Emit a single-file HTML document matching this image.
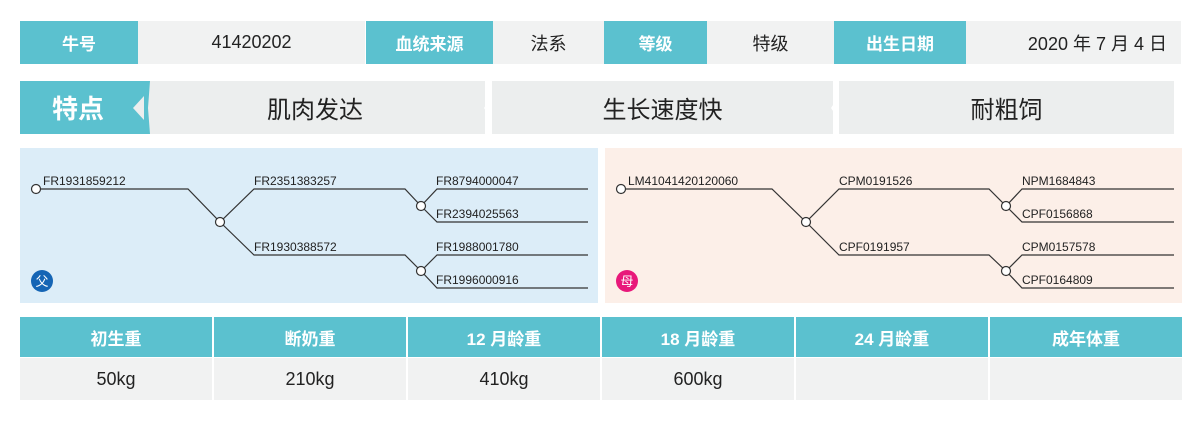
<!DOCTYPE html>
<html><head><meta charset="utf-8"><style>
body{margin:0;width:1200px;height:422px;background:#fff;position:relative;overflow:hidden;font-family:"Liberation Sans","Noto Sans CJK SC",sans-serif}
.c{position:absolute;display:flex;align-items:center;justify-content:center;box-sizing:border-box}
.t{background:#5bc1cf;color:#fff;font-weight:bold;font-size:17px}
.g{background:#f1f2f2;color:#222;font-size:18px}
.f{background:#eceeee;color:#222;font-size:24px}
</style></head><body>
<div class="c t" style="left:20px;top:21px;width:118px;height:43px">牛号</div>
<div class="c g" style="left:138px;top:21px;width:227px;height:43px">41420202</div>
<div class="c t" style="left:366px;top:21px;width:127px;height:43px">血统来源</div>
<div class="c g" style="left:493px;top:21px;width:111px;height:43px">法系</div>
<div class="c t" style="left:604px;top:21px;width:103px;height:43px">等级</div>
<div class="c g" style="left:707px;top:21px;width:127px;height:43px">特级</div>
<div class="c t" style="left:834px;top:21px;width:132px;height:43px">出生日期</div>
<div class="c g" style="left:966px;top:21px;width:215px;height:43px;justify-content:flex-end;padding-right:14px">2020 年 7 月 4 日</div>

<div class="c t" style="left:20px;top:81px;width:124px;height:53px;font-size:26px;justify-content:flex-start;padding-left:32px">特点</div>
<div class="c f" style="left:145px;top:81px;width:340px;height:53px">肌肉发达</div>
<div class="c f" style="left:492px;top:81px;width:341px;height:53px">生长速度快</div>
<div class="c f" style="left:839px;top:81px;width:335px;height:53px">耐粗饲</div>

<svg style="position:absolute;left:0;top:0" width="1200" height="422">
<polygon points="144,81 144,134 150,134 148,108 150,81" fill="#5bc1cf"/>
<polygon points="144,96 133,108 144,120" fill="#eceeee"/>
<polygon points="492,81 492,96 484,108 492,120 492,134 487,134 487,81" fill="#fff"/>
<polygon points="839,81 839,96 831,108 839,120 839,134 835,134 835,81" fill="#fff"/>
<rect x="20" y="148" width="578" height="155" fill="#dcedf8"/>
<rect x="605" y="148" width="577" height="155" fill="#fcefe8"/>
<g fill="none" stroke="#333" stroke-width="1.2">
<polyline points="36,189 188,189 220,222 254,189 405,189 421,206 437,189 588,189"/>
<polyline points="421,206 437,222 588,222"/>
<polyline points="220,222 254,255 405,255 421,271 437,255 588,255"/>
<polyline points="421,271 437,288 588,288"/>
<polyline points="621,189 772,189 806,222 839,189 989,189 1006,206 1022,189 1174,189"/>
<polyline points="1006,206 1022,222 1174,222"/>
<polyline points="806,222 839,255 989,255 1006,271 1022,255 1174,255"/>
<polyline points="1006,271 1022,288 1174,288"/>
</g>
<g fill="#fff" stroke="#333" stroke-width="1.2">
<circle cx="36" cy="189" r="4.5"/><circle cx="220" cy="222" r="4.5"/><circle cx="421" cy="206" r="4.5"/><circle cx="421" cy="271" r="4.5"/>
<circle cx="621" cy="189" r="4.5"/><circle cx="806" cy="222" r="4.5"/><circle cx="1006" cy="206" r="4.5"/><circle cx="1006" cy="271" r="4.5"/>
</g>
<g font-size="12" fill="#222" font-family="Liberation Sans,sans-serif">
<text x="43" y="185">FR1931859212</text><text x="254" y="185">FR2351383257</text><text x="436" y="185">FR8794000047</text><text x="436" y="218">FR2394025563</text>
<text x="254" y="251">FR1930388572</text><text x="436" y="251">FR1988001780</text><text x="436" y="284">FR1996000916</text>
<text x="628" y="185">LM41041420120060</text><text x="839" y="185">CPM0191526</text><text x="1022" y="185">NPM1684843</text><text x="1022" y="218">CPF0156868</text>
<text x="839" y="251">CPF0191957</text><text x="1022" y="251">CPM0157578</text><text x="1022" y="284">CPF0164809</text>
</g>
<circle cx="42" cy="281" r="11" fill="#1565b5"/><text x="42" y="286" font-size="13" fill="#fff" text-anchor="middle" font-family="Noto Sans CJK SC,sans-serif">父</text>
<circle cx="627" cy="281" r="11" fill="#e8187a"/><text x="627" y="286" font-size="13" fill="#fff" text-anchor="middle" font-family="Noto Sans CJK SC,sans-serif">母</text>
</svg>

<div style="position:absolute;left:20px;top:317px;width:1162px;display:grid;grid-template-columns:repeat(6,1fr);gap:0 2px;background:#fff">
<div class="c t" style="position:static;height:40px">初生重</div><div class="c t" style="position:static;height:40px">断奶重</div><div class="c t" style="position:static;height:40px">12 月龄重</div><div class="c t" style="position:static;height:40px">18 月龄重</div><div class="c t" style="position:static;height:40px">24 月龄重</div><div class="c t" style="position:static;height:40px">成年体重</div>
<div class="c g" style="position:static;height:42px;margin-top:1px">50kg</div><div class="c g" style="position:static;height:42px;margin-top:1px">210kg</div><div class="c g" style="position:static;height:42px;margin-top:1px">410kg</div><div class="c g" style="position:static;height:42px;margin-top:1px">600kg</div><div class="c g" style="position:static;height:42px;margin-top:1px"></div><div class="c g" style="position:static;height:42px;margin-top:1px"></div>
</div>
</body></html>
